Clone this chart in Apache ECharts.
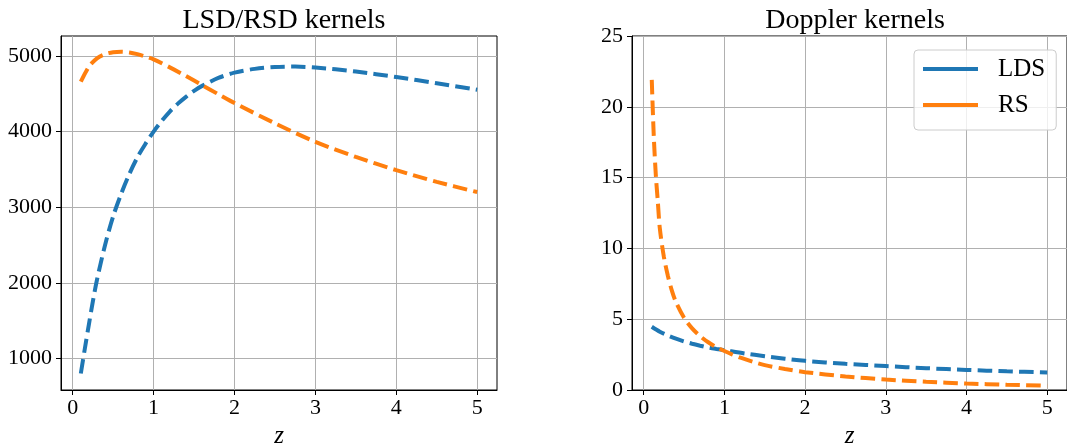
<!DOCTYPE html>
<html>
<head>
<meta charset="utf-8">
<script src="https://cdn.jsdelivr.net/npm/echarts@6/dist/echarts.min.js"></script>
<style>html,body{margin:0;padding:0;background:#fff;}#c{width:1067px;height:443px;}</style>
</head>
<body>
<div id="c"></div>
<script>
// ---- Data ----
const leftTitle = 'LSD/RSD kernels';
const rightTitle = 'Doppler kernels';
const xTicks = [0, 1, 2, 3, 4, 5];
const leftYTicks = [1000, 2000, 3000, 4000, 5000];

// Left panel, blue curve
const zLeftBlue = [0.1, 0.15, 0.2, 0.25, 0.3, 0.4, 0.5, 0.6, 0.7, 0.8, 0.9, 1.0, 1.1, 1.2, 1.3, 1.4, 1.5, 1.6, 1.8, 2.0, 2.25, 2.5, 2.75, 3.0, 3.5, 4.0, 4.5, 5.0];
const leftBlue  = [800, 1130, 1450, 1760, 2040, 2500, 2880, 3180, 3440, 3660, 3840, 4000, 4140, 4265, 4370, 4460, 4540, 4605, 4710, 4780, 4830, 4855, 4860, 4848, 4795, 4722, 4640, 4555];
// Left panel, orange curve
const zLeftOrange = [0.1, 0.2, 0.3, 0.4, 0.5, 0.6, 0.7, 0.8, 0.9, 1.0, 1.2, 1.4, 1.6, 1.8, 2.0, 2.5, 3.0, 3.5, 4.0, 4.5, 5.0];
const leftOrange  = [4660, 4860, 4970, 5025, 5050, 5057, 5048, 5025, 4993, 4956, 4850, 4735, 4615, 4495, 4378, 4110, 3865, 3665, 3490, 3335, 3200];

// Right panel, LDS
const zLDS = [0.1, 0.2, 0.3, 0.4, 0.5, 0.6, 0.7, 0.8, 0.9, 1.0, 1.25, 1.5, 1.75, 2.0, 2.5, 3.0, 3.5, 4.0, 4.5, 5.0];
const lds  = [4.47, 4.12, 3.85, 3.62, 3.43, 3.27, 3.13, 3.0, 2.9, 2.81, 2.58, 2.39, 2.21, 2.06, 1.85, 1.69, 1.54, 1.42, 1.32, 1.24];
// Right panel, RS
const zRS = [0.1, 0.125, 0.15, 0.175, 0.2, 0.25, 0.3, 0.35, 0.4, 0.5, 0.6, 0.7, 0.8, 0.9, 1.0, 1.1, 1.2, 1.35, 1.5, 1.75, 2.0, 2.5, 3.0, 3.5, 4.0, 4.5, 5.0];
const rs  = [21.9, 17.9, 15.2, 13.3, 11.4, 9.4, 8.05, 7.0, 6.2, 5.1, 4.35, 3.8, 3.37, 3.03, 2.75, 2.5, 2.28, 2.0, 1.76, 1.48, 1.26, 0.96, 0.74, 0.58, 0.46, 0.37, 0.3];

const BLUE = '#1f77b4', ORANGE = '#ff7f0e';
const FONT = "'Liberation Serif', 'DejaVu Serif', serif";

function pairs(xs, ys) { return xs.map((x, i) => [x, ys[i]]); }

const gridLine = { show: true, lineStyle: { color: '#b0b0b0', width: 1 } };
const tick = { show: true, length: 5, inside: false, lineStyle: { color: '#000', width: 1 } };
const axLine = { show: true, onZero: false, lineStyle: { color: '#000', width: 1 } };
const plain = (v) => String(v);

function xAxis(idx) {
  return {
    type: 'value', gridIndex: idx, min: -0.145, max: 5.245,
    name: 'z', nameLocation: 'middle', nameGap: 32,
    nameTextStyle: { fontFamily: FONT, fontStyle: 'italic', fontSize: 25, color: '#000' },
    axisLine: axLine,
    axisTick: Object.assign({}, tick, { customValues: xTicks }),
    axisLabel: { customValues: xTicks, formatter: plain, fontFamily: FONT, fontSize: 22, color: '#000', margin: 7 },
    splitLine: Object.assign({}, gridLine, { customValues: xTicks })
  };
}

const lineBase = (color) => ({
  type: 'line', showSymbol: false, symbol: 'none', smooth: 0.3,
  lineStyle: { color: color, width: 4, type: [14.5, 6.2], cap: 'butt' },
  itemStyle: { color: color }, animation: false
});

const chart = echarts.init(document.getElementById('c'), null, { renderer: 'canvas' });
chart.setOption({
  backgroundColor: '#fff',
  animation: false,
  title: [
    { text: leftTitle, left: 279, top: 2, textAlign: 'center',
      textStyle: { fontFamily: FONT, fontSize: 28, fontWeight: 'normal', color: '#000' } },
    { text: rightTitle, left: 850, top: 2, textAlign: 'center',
      textStyle: { fontFamily: FONT, fontSize: 28, fontWeight: 'normal', color: '#000' } }
  ],
  grid: [
    { left: 61, top: 36, width: 436, height: 354, show: true, borderColor: '#000', borderWidth: 1, containLabel: false, outerBoundsMode: 'none' },
    { left: 632, top: 36, width: 435, height: 354, show: true, borderColor: '#000', borderWidth: 1, containLabel: false, outerBoundsMode: 'none' }
  ],
  xAxis: [xAxis(0), xAxis(1)],
  yAxis: [
    { type: 'value', gridIndex: 0, min: 581, max: 5265,
      axisLine: axLine,
      axisTick: Object.assign({}, tick, { customValues: leftYTicks }),
      axisLabel: { customValues: leftYTicks, formatter: plain, fontFamily: FONT, fontSize: 22, color: '#000', margin: 9 },
      splitLine: Object.assign({}, gridLine, { customValues: leftYTicks }) },
    { type: 'value', gridIndex: 1, min: 0, max: 25, interval: 5,
      axisLine: axLine, axisTick: tick,
      axisLabel: { formatter: plain, fontFamily: FONT, fontSize: 22, color: '#000', margin: 9 },
      splitLine: gridLine }
  ],
  legend: {
    data: ['LDS', 'RS'], orient: 'vertical', left: 914, top: 50,
    icon: 'rect', itemWidth: 55, itemHeight: 4, itemGap: 10,
    padding: [6, 11, 12, 9],
    backgroundColor: 'rgba(255,255,255,0.8)', borderColor: '#cccccc', borderWidth: 1, borderRadius: 4,
    textStyle: { fontFamily: FONT, fontSize: 25, color: '#000', lineHeight: 26, padding: [0, 0, 0, 15] },
    selectedMode: false
  },
  series: [
    Object.assign(lineBase(BLUE), { name: 'LSD', xAxisIndex: 0, yAxisIndex: 0, data: pairs(zLeftBlue, leftBlue) }),
    Object.assign(lineBase(ORANGE), { name: 'RSD', xAxisIndex: 0, yAxisIndex: 0, data: pairs(zLeftOrange, leftOrange) }),
    Object.assign(lineBase(BLUE), { name: 'LDS', xAxisIndex: 1, yAxisIndex: 1, data: pairs(zLDS, lds) }),
    Object.assign(lineBase(ORANGE), { name: 'RS', xAxisIndex: 1, yAxisIndex: 1, data: pairs(zRS, rs) })
  ]
});
</script>
</body>
</html>
